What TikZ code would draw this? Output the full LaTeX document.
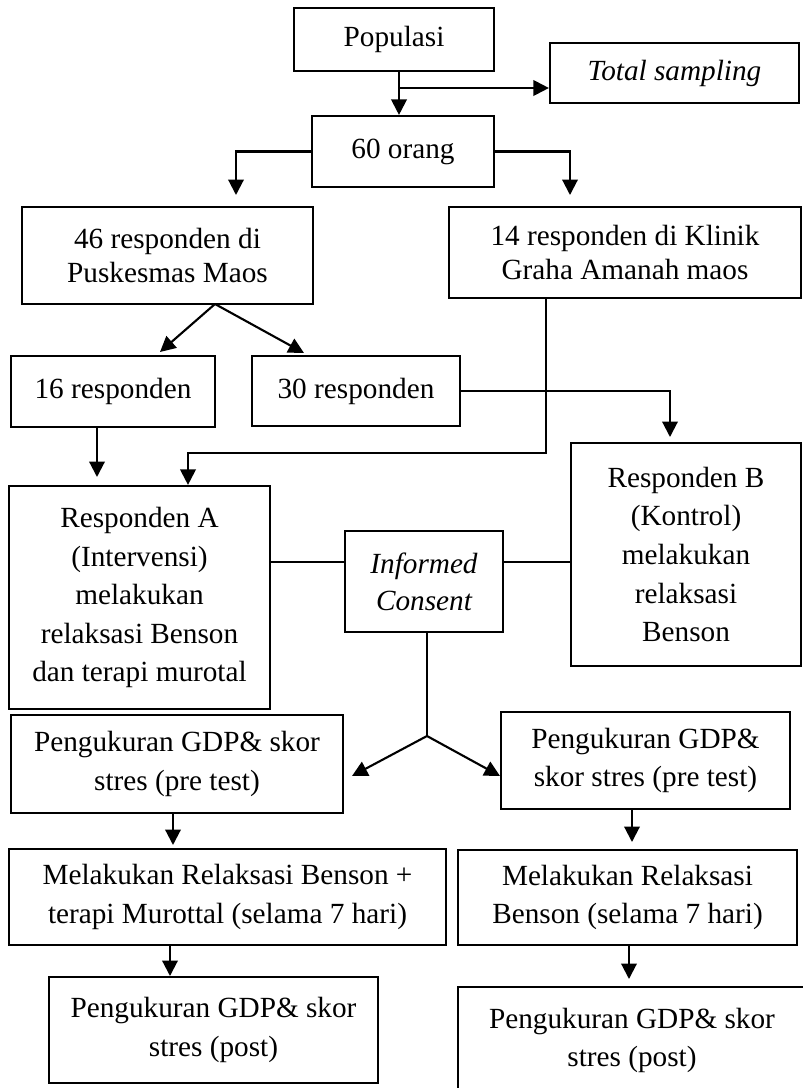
\documentclass[tikz,border=0pt]{standalone}
\usepackage{fontspec}
\setmainfont{Liberation Serif}
\usetikzlibrary{arrows.meta}

\begin{document}
\begin{tikzpicture}[
  x=0.025cm, y=-0.025cm,
  box/.style={rectangle,draw,line width=1.5pt,align=center,inner sep=2pt,
              font=\fontsize{20.8}{27.4}\selectfont},
  tight/.style={font=\fontsize{20.8}{23.5}\selectfont},
  ital/.style={font=\fontsize{20.8}{26.3}\selectfont\itshape},
  arr/.style={-{Triangle[length=11pt,width=11pt]},line width=1.5pt},
  link/.style={line width=1.5pt}
]
  \useasboundingbox (0,0) rectangle (803,1088);

  % boxes
  \node[box,minimum width=5cm,minimum height=1.575cm] (pop) at (394,39.5) {Populasi};
  \node[box,ital,minimum width=6.225cm,minimum height=1.5cm] (total) at (674.5,73) {Total sampling};
  \node[box,minimum width=4.55cm,minimum height=1.775cm] (sixty) at (403,151.5) {60 orang};
  \node[box,tight,minimum width=7.275cm,minimum height=2.425cm] (p46) at (167.5,255.5) {46 responden di\\Puskesmas Maos};
  \node[box,tight,minimum width=8.8cm,minimum height=2.275cm] (k14) at (625,252.5) {14 responden di Klinik\\Graha Amanah maos};
  \node[box,minimum width=5.1cm,minimum height=1.775cm] (r16) at (113,391.5) {16 responden};
  \node[box,minimum width=5.2cm,minimum height=1.75cm] (r30) at (356,391) {30 responden};
  \node[box,minimum width=6.525cm,minimum height=5.575cm] (respA) at (139.5,597.5)
    {Responden A\\(Intervensi)\\melakukan\\relaksasi Benson\\dan terapi murotal};
  \node[box,ital,minimum width=3.95cm,minimum height=2.525cm] (ic) at (424,581.5) {Informed\\Consent};
  \node[box,minimum width=5.75cm,minimum height=5.575cm] (respB) at (686,554.5)
    {Responden B\\(Kontrol)\\melakukan\\relaksasi\\Benson};
  \node[box,minimum width=8.3cm,minimum height=2.45cm] (preL) at (177,764) {Pengukuran GDP\& skor\\stres (pre test)};
  \node[box,minimum width=7.225cm,minimum height=2.425cm] (preR) at (645.5,760.5) {Pengukuran GDP\&\\skor stres (pre test)};
  \node[box,minimum width=10.925cm,minimum height=2.4cm] (melL) at (227.5,897)
    {Melakukan Relaksasi Benson +\\terapi Murottal (selama 7 hari)};
  \node[box,minimum width=8.475cm,minimum height=2.375cm] (melR) at (627.5,897.5)
    {Melakukan Relaksasi\\Benson (selama 7 hari)};
  \node[box,minimum width=8.225cm,minimum height=2.65cm] (postL) at (213.5,1030) {Pengukuran GDP\& skor\\stres (post)};
  \node[box,minimum width=8.7cm,minimum height=2.675cm] (postR) at (632,1040.5) {Pengukuran GDP\& skor\\stres (post)};

  % joints and free arrow ends
  \coordinate (pjoin) at (399,88);
  \coordinate (t46) at (236,195);
  \coordinate (t14) at (570,195);
  \coordinate (f46) at (215,304);
  \coordinate (t16) at (160,352);
  \coordinate (t30) at (304,353);
  \coordinate (tA1) at (97,477);
  \coordinate (kb) at (546,453);
  \coordinate (tA2) at (188,453);
  \coordinate (tB) at (670,437);
  \coordinate (lvl) at (0,562);
  \coordinate (fic) at (427,736);
  \coordinate (tpl) at (352,776);
  \coordinate (tpr) at (500,776);
  \coordinate (tml) at (173,845);
  \coordinate (tmr) at (632,842);
  \coordinate (tpol) at (170,976);
  \coordinate (tpor) at (629,979);

  % connectors
  \draw[arr] (pop.south -| pjoin) -- (sixty.north -| pjoin);
  \draw[arr] (pjoin) -- (total.west |- pjoin);
  \draw[arr] (sixty.west) -| (t46);
  \draw[arr] (sixty.east) -| (t14);
  \draw[arr] (f46) -- (t16);
  \draw[arr] (f46) -- (t30);
  \draw[arr] (r16.south -| tA1) -- (tA1);
  \draw[arr] (k14.south -| kb) -- (kb) -- (tA2) -- (respA.north -| tA2);
  \draw[arr] (r30.east) -| (tB);
  \draw[link] (respA.east |- lvl) -- (ic.west |- lvl);
  \draw[link] (ic.east |- lvl) -- (respB.west |- lvl);
  \draw[link] (ic.south -| fic) -- (fic);
  \draw[arr] (fic) -- (tpl);
  \draw[arr] (fic) -- (tpr);
  \draw[arr] (preL.south -| tml) -- (tml);
  \draw[arr] (preR.south -| tmr) -- (tmr);
  \draw[arr] (melL.south -| tpol) -- (tpol);
  \draw[arr] (melR.south -| tpor) -- (tpor);
\end{tikzpicture}
\end{document}
